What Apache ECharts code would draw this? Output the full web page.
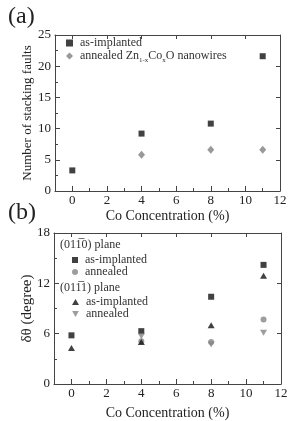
<!DOCTYPE html>
<html>
<head>
<meta charset="utf-8">
<script src="https://cdn.jsdelivr.net/npm/echarts@6/dist/echarts.min.js"></script>
<style>
html,body{margin:0;padding:0;background:#fff;}
#chart{width:293px;height:421px;}
</style>
</head>
<body>
<div id="chart"></div>
<script>
// x positions (Co %)
var conc = [0, 4, 8, 11];
// panel (a): stacking faults
var sfImplanted = [3.3, 9.2, 10.8, 21.6];
var sfAnnealed = [null, 5.8, 6.6, 6.6];
// panel (b): delta theta
var dt10Implanted = [5.8, 6.3, 10.4, 14.2];
var dt10Annealed = [null, 5.1, 5.0, 7.7];
var dt11Implanted = [4.3, 5.0, 7.0, 12.9];
var dt11Annealed = [null, 5.7, 4.7, 6.1];
// tick labels
var xMajor = [0, 2, 4, 6, 8, 10, 12];
var xMinor = [-1, 1, 3, 5, 7, 9, 11];

var font = 'Liberation Serif, Times New Roman, serif';
var axisColor = '#444';
var downTri = 'path://M0,0 L10,0 L5,9 Z';

function pairs(ys) {
    var out = [];
    for (var i = 0; i < conc.length; i++) {
        if (ys[i] != null) out.push([conc[i], ys[i]]);
    }
    return out;
}

// x axes of one grid: labels + long ticks, short minor ticks, mirrored ticks on top
function xAxes(g, nameGap) {
    return [
        {
            gridIndex: g, type: 'value', min: -1, max: 12, position: 'bottom',
            name: 'Co Concentration (%)', nameLocation: 'middle', nameGap: nameGap, nameMoveOverlap: false,
            nameTextStyle: {fontFamily: font, fontSize: 14, color: '#222'},
            axisLine: {show: true, onZero: false, lineStyle: {color: axisColor, width: 1}},
            axisTick: {show: true, inside: true, length: 5, customValues: xMajor, lineStyle: {color: axisColor}},
            axisLabel: {customValues: xMajor, fontFamily: font, fontSize: 13, color: '#222', margin: 3},
            splitLine: {show: false}
        },
        {
            gridIndex: g, type: 'value', min: -1, max: 12, position: 'bottom',
            axisLine: {show: false},
            axisTick: {show: true, inside: true, length: 3, customValues: xMinor, lineStyle: {color: axisColor}},
            axisLabel: {show: false}, splitLine: {show: false}
        },
        {
            gridIndex: g, type: 'value', min: -1, max: 12, position: 'top',
            axisLine: {show: true, onZero: false, lineStyle: {color: axisColor, width: 1}},
            axisTick: {show: true, inside: true, length: 4, customValues: xMajor, lineStyle: {color: axisColor}},
            axisLabel: {show: false}, splitLine: {show: false}
        }
    ];
}

function yAxes(g, max, interval, name, nameSize, nameGap) {
    return [
        {
            gridIndex: g, type: 'value', min: 0, max: max, interval: interval, position: 'left',
            name: name, nameLocation: 'middle', nameGap: nameGap, nameRotate: 90, nameMoveOverlap: false,
            nameTextStyle: {fontFamily: font, fontSize: nameSize, color: '#222'},
            axisLine: {show: true, onZero: false, lineStyle: {color: axisColor, width: 1}},
            axisTick: {show: true, inside: true, length: 5, lineStyle: {color: axisColor}},
            minorTick: {show: true, splitNumber: 2, length: 3, lineStyle: {color: axisColor}},
            axisLabel: {fontFamily: font, fontSize: 13, color: '#222', margin: 4},
            splitLine: {show: false}
        },
        {
            gridIndex: g, type: 'value', min: 0, max: max, interval: interval, position: 'right',
            axisLine: {show: true, onZero: false, lineStyle: {color: axisColor, width: 1}},
            axisTick: {show: true, inside: true, length: 4, lineStyle: {color: axisColor}},
            axisLabel: {show: false}, splitLine: {show: false}
        }
    ];
}

var names = {
    sfI: 'as-implanted',
    sfA: '{n|annealed Zn}{s|1-x}{n|Co}{s|x}{n|O nanowires}',
    aI: 'as-implanted', aA: 'annealed',
    bI: 'as-implanted', bA: 'annealed'
};
var rich = {
    n: {fontFamily: font, fontSize: 12, color: '#333'},
    s: {fontFamily: font, fontSize: 7, color: '#333', padding: [8, 0, 0, 0]}
};
var legText = {fontFamily: font, fontSize: 12, color: '#333', padding: [0, 0, 0, 2], rich: rich};

var myChart = echarts.init(document.getElementById('chart'));
var option = {
    animation: false,
    backgroundColor: '#fff',
    grid: [
        {left: 55, top: 35, width: 225, height: 156},
        {left: 54, top: 233, width: 227, height: 156}
    ],
    xAxis: xAxes(0, 18).concat(xAxes(1, 22)),
    yAxis: yAxes(0, 25, 5, 'Number of stacking faults', 13, 21).concat(yAxes(1, 18, 6, 'δθ (degree)', 15, 19)),
    legend: [
        {
            data: ['sfI', 'sfA'], orient: 'vertical', left: 61, top: 32, itemGap: 1,
            itemWidth: 7, itemHeight: 7, formatter: function (n) { return names[n]; },
            textStyle: legText
        },
        {
            data: ['aI', 'aA'], orient: 'vertical', left: 67, top: 249, itemGap: 0,
            itemWidth: 6, itemHeight: 6, formatter: function (n) { return names[n]; },
            textStyle: legText
        },
        {
            data: ['bI', 'bA'], orient: 'vertical', left: 67, top: 291, itemGap: 0,
            itemWidth: 7, itemHeight: 6, formatter: function (n) { return names[n]; },
            textStyle: legText
        }
    ],
    graphic: [
        {type: 'text', left: 8, top: 5, style: {text: '(a)', font: '24px ' + font, fill: '#222'}},
        {type: 'text', left: 8, top: 201, style: {text: '(b)', font: '24px ' + font, fill: '#222'}},
        {type: 'text', left: 60, top: 239, style: {text: '(011\u03050) plane', font: '12px ' + font, fill: '#333'}},
        {type: 'text', left: 60, top: 282, style: {text: '(011\u03051) plane', font: '12px ' + font, fill: '#333'}}
    ],
    series: [
        {name: 'sfI', type: 'scatter', xAxisIndex: 0, yAxisIndex: 0, symbol: 'rect', symbolSize: 6,
            itemStyle: {color: '#111'}, data: pairs(sfImplanted)},
        {name: 'sfA', type: 'scatter', xAxisIndex: 0, yAxisIndex: 0, symbol: 'diamond', symbolSize: [7, 8],
            itemStyle: {color: '#808080'}, data: pairs(sfAnnealed)},
        {name: 'aI', type: 'scatter', xAxisIndex: 3, yAxisIndex: 2, symbol: 'rect', symbolSize: 6,
            itemStyle: {color: '#111'}, data: pairs(dt10Implanted)},
        {name: 'aA', type: 'scatter', xAxisIndex: 3, yAxisIndex: 2, symbol: 'circle', symbolSize: 6,
            itemStyle: {color: '#858585'}, data: pairs(dt10Annealed)},
        {name: 'bI', type: 'scatter', xAxisIndex: 3, yAxisIndex: 2, symbol: 'triangle', symbolSize: [7, 6],
            itemStyle: {color: '#111'}, data: pairs(dt11Implanted)},
        {name: 'bA', type: 'scatter', xAxisIndex: 3, yAxisIndex: 2, symbol: downTri, symbolSize: [7, 6],
            itemStyle: {color: '#858585'}, data: pairs(dt11Annealed)}
    ]
};
myChart.setOption(option);
</script>
</body>
</html>
